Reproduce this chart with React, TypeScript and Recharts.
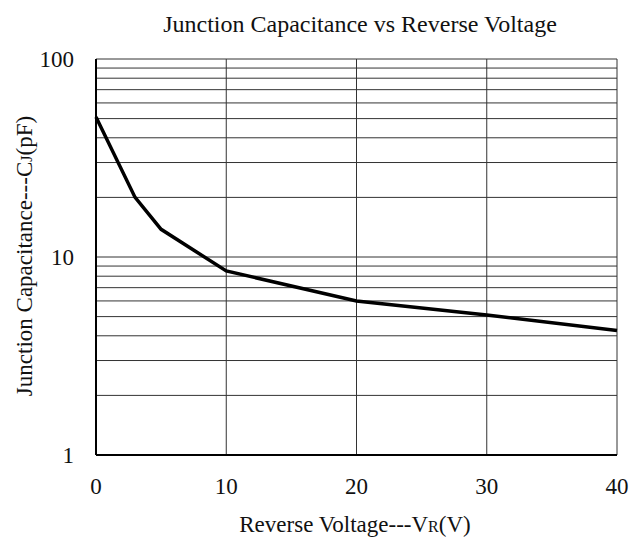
import React from 'react';
import { LineChart, Line, XAxis, YAxis, CartesianGrid, Label } from 'recharts';

const voltage = [0, 3, 5, 10, 20, 30, 40];
const capacitance = [51, 20, 13.8, 8.5, 6.0, 5.1, 4.25];

const xTicks = [0, 10, 20, 30, 40];
const yGridTicks = [1, 2, 3, 4, 5, 6, 7, 8, 9, 10, 20, 30, 40, 50, 60, 70, 80, 90, 100];
const yLabelTicks = [1, 10, 100];

const title = 'Junction Capacitance vs Reverse Voltage';

const data = voltage.map((v, i) => ({ v, c: capacitance[i] }));

const FONT = 'Liberation Serif, serif';

const XTick = (props: any) => {
  const { x, y, payload } = props;
  return (
    <text x={x} y={y} dy="0.71em" textAnchor="middle" fill="#111" fontSize={23} fontFamily={FONT}>
      {payload.value}
    </text>
  );
};

const YTick = (props: any) => {
  const { x, y, payload } = props;
  if (!yLabelTicks.includes(payload.value)) return <g />;
  return (
    <text x={x} y={y} dy="0.355em" textAnchor="end" fill="#111" fontSize={23} fontFamily={FONT}>
      {payload.value}
    </text>
  );
};

export default function App() {
  return (
    <div style={{ position: 'absolute', left: 0, top: 0, background: '#fff', fontFamily: FONT }}>
      <LineChart
        width={640}
        height={538}
        data={data}
        margin={{ top: 59, right: 23, bottom: 0, left: 0 }}
        style={{ fontFamily: FONT }}
      >
        <CartesianGrid stroke="#333" strokeWidth={1} />
        <XAxis
          dataKey="v"
          type="number"
          domain={[0, 40]}
          ticks={xTicks}
          height={83}
          axisLine={{ stroke: '#000', strokeWidth: 2 }}
          tickLine={false}
          tickSize={0}
          tickMargin={23}
          tick={<XTick />}
        >
          <Label
            content={() => (
              <g>
                <text x={355} y={532} textAnchor="middle" fill="#111" fontSize={23} fontFamily={FONT}>
                  Reverse Voltage---V<tspan fontSize={16}>R</tspan>(V)
                </text>
                <text x={360} y={32} textAnchor="middle" fill="#111" fontSize={24} fontFamily={FONT}>
                  {title}
                </text>
              </g>
            )}
          />
        </XAxis>
        <YAxis
          type="number"
          scale="log"
          domain={[1, 100]}
          ticks={yGridTicks}
          interval={0}
          allowDataOverflow
          width={96}
          axisLine={{ stroke: '#000', strokeWidth: 2 }}
          tickLine={false}
          tickSize={0}
          tickMargin={22}
          tick={<YTick />}
        >
          <Label
            content={() => (
              <text
                x={32}
                y={256}
                transform="rotate(-90, 32, 256)"
                textAnchor="middle"
                fill="#111"
                fontSize={23}
                fontFamily={FONT}
              >
                Junction Capacitance---C<tspan fontSize={16}>J</tspan>(pF)
              </text>
            )}
          />
        </YAxis>
        <Line
          type="linear"
          dataKey="c"
          stroke="#000"
          strokeWidth={3.5}
          dot={false}
          isAnimationActive={false}
        />
      </LineChart>
    </div>
  );
}
